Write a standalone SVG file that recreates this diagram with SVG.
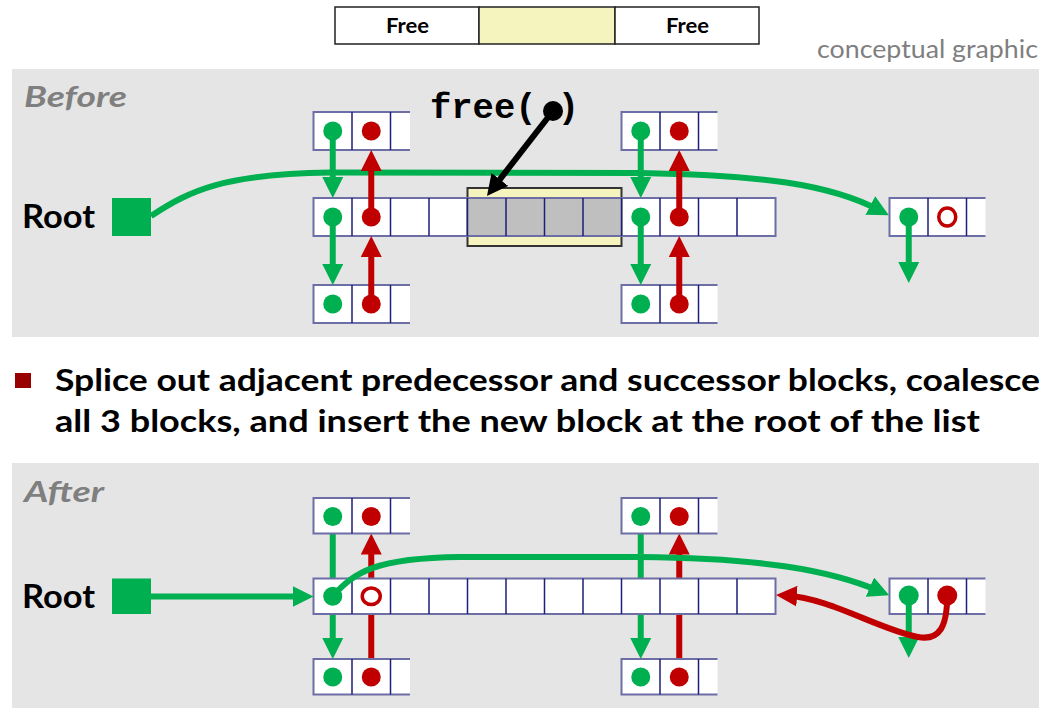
<svg xmlns="http://www.w3.org/2000/svg" width="1053" height="708" viewBox="0 0 1053 708">
<style>
.panel{fill:#E5E5E5}
.cellbg{fill:#FFFFFF}
.outer{fill:none;stroke:#6E6EA6;stroke-width:2}
.div{fill:none;stroke:#1E1E7E;stroke-width:1.5}
.gdot{fill:#00B050}
.rdot{fill:#C00000}
.rring{fill:none;stroke:#C00000;stroke-width:3.5}
.g{fill:none;stroke:#00B050;stroke-width:6}
.r{fill:none;stroke:#C00000;stroke-width:6}
.k{fill:none;stroke:#000000;stroke-width:6}
.lbl{font-family:Lato,"Liberation Sans",sans-serif;font-weight:700;fill:#000}
.phase{font-family:Lato,"Liberation Sans",sans-serif;font-weight:700;font-style:italic;fill:#7F7F7F;font-size:28px}
.bar{stroke:#222;stroke-width:1.5}
</style>
<defs>
<marker id="ag" markerUnits="userSpaceOnUse" viewBox="0 0 21 21" markerWidth="21" markerHeight="21" refX="11" refY="10.5" orient="auto"><path d="M0,0 L21,10.5 L0,21 z" fill="#00B050"/></marker>
<marker id="ar" markerUnits="userSpaceOnUse" viewBox="0 0 21 21" markerWidth="21" markerHeight="21" refX="11" refY="10.5" orient="auto"><path d="M0,0 L21,10.5 L0,21 z" fill="#C00000"/></marker>
<marker id="ak" markerUnits="userSpaceOnUse" viewBox="0 0 21 21" markerWidth="21" markerHeight="21" refX="11" refY="10.5" orient="auto"><path d="M0,0 L21,10.5 L0,21 z" fill="#000000"/></marker>
</defs>

<rect width="1053" height="708" fill="#FFFFFF"/>

<!-- top bar -->
<g id="topbar">
<rect x="335" y="7" width="144" height="37" fill="#FFFFFF" class="bar"/>
<rect x="479" y="7" width="136" height="37" fill="#F6F4BE" class="bar"/>
<rect x="615" y="7" width="144" height="37" fill="#FFFFFF" class="bar"/>
<text x="407.5" y="33" text-anchor="middle" class="lbl" font-size="20" textLength="43" lengthAdjust="spacingAndGlyphs">Free</text>
<text x="687.5" y="33" text-anchor="middle" class="lbl" font-size="20" textLength="43" lengthAdjust="spacingAndGlyphs">Free</text>
</g>
<text x="1038" y="58" text-anchor="end" font-family="Lato,'Liberation Sans',sans-serif" font-size="25" fill="#7F7F7F" textLength="221" lengthAdjust="spacingAndGlyphs">conceptual graphic</text>

<!-- BEFORE panel -->
<rect class="panel" x="12" y="69" width="1027" height="268"/>
<text class="phase" x="24" y="107" textLength="103" lengthAdjust="spacingAndGlyphs">Before</text>
<text class="lbl" x="22" y="228" font-size="32" textLength="73" lengthAdjust="spacingAndGlyphs">Root</text>
<rect id="b-root" x="112" y="198" width="39" height="38" fill="#00B050"/>

<g id="b-curve">
<path class="g" d="M151,216 C190,190 225,174 330,172.5 L640,173 C760,175 830,184 880,210.6" marker-end="url(#ag)"/>
</g>

<g id="b-top-a">
<rect class="cellbg" x="313.5" y="112" width="96.5" height="38"/>
<path class="outer" d="M410,112 H313.5 V150 H410"/>
<path class="div" d="M352,112 V150 M390.5,112 V150"/>
<circle class="gdot" cx="332.75" cy="131" r="9.5"/>
<circle class="rdot" cx="371.25" cy="131" r="9.5"/>
</g>
<g id="b-top-b">
<rect class="cellbg" x="621.5" y="112" width="96" height="38"/>
<path class="outer" d="M717.5,112 H621.5 V150 H717.5"/>
<path class="div" d="M660,112 V150 M698.5,112 V150"/>
<circle class="gdot" cx="640.75" cy="131" r="9.5"/>
<circle class="rdot" cx="679.25" cy="131" r="9.5"/>
</g>
<g id="b-row">
<rect class="cellbg" x="313.5" y="198" width="462" height="38"/>
<rect x="467.5" y="188" width="154" height="58" fill="#F6F4BE" stroke="#333333" stroke-width="2"/>
<rect x="467.5" y="198" width="154" height="38" fill="#BFBFBF"/>
<rect class="outer" x="313.5" y="198" width="462" height="38"/>
<path class="div" d="M352,198 V236 M390.5,198 V236 M429,198 V236 M467.5,198 V236 M506,198 V236 M544.5,198 V236 M583,198 V236 M621.5,198 V236 M660,198 V236 M698.5,198 V236 M737,198 V236"/>
<circle class="gdot" cx="332.75" cy="217" r="9.5"/>
<circle class="rdot" cx="371.25" cy="217" r="9.5"/>
<circle class="gdot" cx="640.75" cy="217" r="9.5"/>
<circle class="rdot" cx="679.25" cy="217" r="9.5"/>
</g>
<g id="b-bot-a">
<rect class="cellbg" x="313.5" y="285" width="96.5" height="38"/>
<path class="outer" d="M410,285 H313.5 V323 H410"/>
<path class="div" d="M352,285 V323 M390.5,285 V323"/>
<circle class="gdot" cx="332.75" cy="304" r="9.5"/>
<circle class="rdot" cx="371.25" cy="304" r="9.5"/>
</g>
<g id="b-bot-b">
<rect class="cellbg" x="621.5" y="285" width="96" height="38"/>
<path class="outer" d="M717.5,285 H621.5 V323 H717.5"/>
<path class="div" d="M660,285 V323 M698.5,285 V323"/>
<circle class="gdot" cx="640.75" cy="304" r="9.5"/>
<circle class="rdot" cx="679.25" cy="304" r="9.5"/>
</g>
<g id="b-right">
<rect class="cellbg" x="889.5" y="198" width="96" height="38"/>
<path class="outer" d="M985.5,198 H889.5 V236 H985.5"/>
<path class="div" d="M928,198 V236 M966.5,198 V236"/>
<circle class="gdot" cx="908.75" cy="217" r="9.5"/>
<ellipse class="rring" cx="947.25" cy="217" rx="8.5" ry="9"/>
</g>

<g id="b-connectors">
<path class="g" d="M332.75,131 V188" marker-end="url(#ag)"/>
<path class="r" d="M371.25,217 V160" marker-end="url(#ar)"/>
<path class="g" d="M332.75,217 V275" marker-end="url(#ag)"/>
<path class="r" d="M371.25,304 V246" marker-end="url(#ar)"/>
<path class="g" d="M640.75,131 V188" marker-end="url(#ag)"/>
<path class="r" d="M679.25,217 V160" marker-end="url(#ar)"/>
<path class="g" d="M640.75,217 V275" marker-end="url(#ag)"/>
<path class="r" d="M679.25,304 V246" marker-end="url(#ar)"/>
<path class="g" d="M908.75,217 V273" marker-end="url(#ag)"/>
<path class="k" d="M553,111 L493.1,188.1" marker-end="url(#ak)"/>
<circle cx="553" cy="111" r="10" fill="#000"/>
</g>
<text x="430" y="118" font-family="'Liberation Mono','DejaVu Sans Mono',monospace" font-weight="700" font-size="35.5" fill="#000" xml:space="preserve">free( )</text>

<!-- bullet -->
<rect x="15" y="373" width="16" height="15" fill="#990000"/>
<text class="lbl" x="55" y="391" font-size="30" textLength="985" lengthAdjust="spacingAndGlyphs">Splice out adjacent predecessor and successor blocks, coalesce</text>
<text class="lbl" x="55" y="432" font-size="30" textLength="925" lengthAdjust="spacingAndGlyphs">all 3 blocks, and insert the new block at the root of the list</text>

<!-- AFTER panel -->
<rect class="panel" x="12" y="463" width="1027" height="245"/>
<text class="phase" x="24" y="502" textLength="80" lengthAdjust="spacingAndGlyphs">After</text>
<text class="lbl" x="22" y="608" font-size="32" textLength="73" lengthAdjust="spacingAndGlyphs">Root</text>
<rect id="a-root" x="112" y="578.5" width="39" height="35.5" fill="#00B050"/>

<g id="a-connectors-back">
<path class="g" d="M332.75,517 V649" marker-end="url(#ag)"/>
<path class="r" d="M371.25,677 V543.5" marker-end="url(#ar)"/>
<path class="g" d="M640.75,517 V649" marker-end="url(#ag)"/>
<path class="r" d="M679.25,677 V543.5" marker-end="url(#ar)"/>
</g>

<g id="a-top-a">
<rect class="cellbg" x="313.5" y="498" width="96.5" height="35.5"/>
<path class="outer" d="M410,498 H313.5 V533.5 H410"/>
<path class="div" d="M352,498 V533.5 M390.5,498 V533.5"/>
<circle class="gdot" cx="332.75" cy="516.5" r="9.5"/>
<circle class="rdot" cx="371.25" cy="516.5" r="9.5"/>
</g>
<g id="a-top-b">
<rect class="cellbg" x="621.5" y="498" width="96" height="35.5"/>
<path class="outer" d="M717.5,498 H621.5 V533.5 H717.5"/>
<path class="div" d="M660,498 V533.5 M698.5,498 V533.5"/>
<circle class="gdot" cx="640.75" cy="516.5" r="9.5"/>
<circle class="rdot" cx="679.25" cy="516.5" r="9.5"/>
</g>
<g id="a-row">
<rect class="cellbg" x="313.5" y="578.5" width="462" height="35.5"/>
<rect class="outer" x="313.5" y="578.5" width="462" height="35.5"/>
<path class="div" d="M352,578.5 V614 M390.5,578.5 V614 M429,578.5 V614 M467.5,578.5 V614 M506,578.5 V614 M544.5,578.5 V614 M583,578.5 V614 M621.5,578.5 V614 M660,578.5 V614 M698.5,578.5 V614 M737,578.5 V614"/>
<circle class="gdot" cx="332.75" cy="596.25" r="9.5"/>
<ellipse class="rring" cx="371.25" cy="596.25" rx="9" ry="8.3"/>
</g>
<g id="a-bot-a">
<rect class="cellbg" x="313.5" y="659" width="96.5" height="35.5"/>
<path class="outer" d="M410,659 H313.5 V694.5 H410"/>
<path class="div" d="M352,659 V694.5 M390.5,659 V694.5"/>
<circle class="gdot" cx="332.75" cy="677" r="9.5"/>
<circle class="rdot" cx="371.25" cy="677" r="9.5"/>
</g>
<g id="a-bot-b">
<rect class="cellbg" x="621.5" y="659" width="96" height="35.5"/>
<path class="outer" d="M717.5,659 H621.5 V694.5 H717.5"/>
<path class="div" d="M660,659 V694.5 M698.5,659 V694.5"/>
<circle class="gdot" cx="640.75" cy="677" r="9.5"/>
<circle class="rdot" cx="679.25" cy="677" r="9.5"/>
</g>
<g id="a-right">
<rect class="cellbg" x="889.5" y="578.5" width="96" height="35.5"/>
<path class="outer" d="M985.5,578.5 H889.5 V614 H985.5"/>
<path class="div" d="M928,578.5 V614 M966.5,578.5 V614"/>
<circle class="gdot" cx="908.75" cy="595.5" r="10"/>
<circle class="rdot" cx="947.25" cy="595.5" r="10"/>
</g>

<g id="a-connectors-front">
<path class="g" d="M151,596.5 H303.5" marker-end="url(#ag)"/>
<path class="g" d="M332.75,596 C355,572 375,558 460,557 L640,557 C760,558 830,570 880,591.4" marker-end="url(#ag)"/>
<path class="g" d="M908.75,596 V648" marker-end="url(#ag)"/>
<path class="r" d="M947.25,596 C947,626 940,641 918,637 C880,630 830,598 786,595.5" marker-end="url(#ar)"/>
</g>
</svg>
